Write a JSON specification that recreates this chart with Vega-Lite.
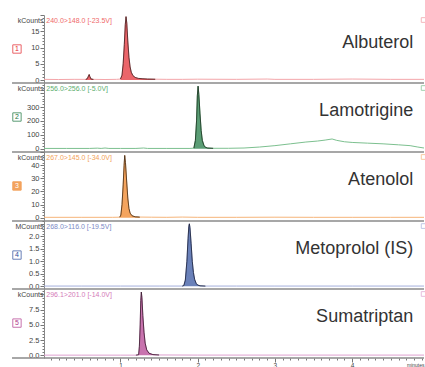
{
"$schema":"https://vega.github.io/schema/vega-lite/v6.json",
"padding":{"left":10,"top":11,"right":0,"bottom":0},
"background":"white",
"spacing":0,
"bounds":"flush",
"config":{
 "view":{"stroke":null},
 "font":"Liberation Sans",
 "axis":{"grid":false,"domain":true,"ticks":true,"tickCount":200,"labelOverlap":false,"labelFontSize":7.5,"labelColor":"#444","tickColor":"#777","tickSize":3,"domainColor":"#888","titleFontSize":7,"titleFontWeight":"normal","titleColor":"#444","labelFont":"Liberation Sans","titleFont":"Liberation Sans"},
 "axisY":{"titleAngle":0,"titleAlign":"right","titleBaseline":"middle","titleX":-1,"titleY":5,"labelPadding":1}
},
"datasets":{
 "meta":[
  {"c":"A","name":"Albuterol","ion":"240.0>148.0 [-23.5V]","n":"1"},
  {"c":"L","name":"Lamotrigine","ion":"256.0>256.0 [-5.0V]","n":"2"},
  {"c":"At","name":"Atenolol","ion":"267.0>145.0 [-34.0V]","n":"3"},
  {"c":"M","name":"Metoprolol (IS)","ion":"268.0>116.0 [-19.5V]","n":"4"},
  {"c":"S","name":"Sumatriptan","ion":"296.1>201.0 [-14.0V]","n":"5"}
 ],
 "tr":[
  {"c":"A","t":0.01,"v":0.2},{"c":"A","t":0.2,"v":0.15},{"c":"A","t":0.4,"v":0.2},{"c":"A","t":0.55,"v":0.2},{"c":"A","t":0.57,"v":0.4},{"c":"A","t":0.585,"v":1.2},{"c":"A","t":0.595,"v":1.7},{"c":"A","t":0.605,"v":1.0},{"c":"A","t":0.62,"v":0.3},{"c":"A","t":0.65,"v":0.2},{"c":"A","t":0.8,"v":0.15},{"c":"A","t":0.95,"v":0.2},{"c":"A","t":1.0,"v":0.3},{"c":"A","t":1.02,"v":1.5},{"c":"A","t":1.035,"v":5},{"c":"A","t":1.05,"v":11},{"c":"A","t":1.062,"v":17},{"c":"A","t":1.072,"v":19.5},{"c":"A","t":1.082,"v":17.5},{"c":"A","t":1.095,"v":12},{"c":"A","t":1.11,"v":7},{"c":"A","t":1.125,"v":4},{"c":"A","t":1.14,"v":2.4},{"c":"A","t":1.16,"v":1.4},{"c":"A","t":1.19,"v":0.8},{"c":"A","t":1.23,"v":0.5},{"c":"A","t":1.28,"v":0.4},{"c":"A","t":1.35,"v":0.3},{"c":"A","t":1.45,"v":0.25},{"c":"A","t":1.6,"v":0.2},{"c":"A","t":1.8,"v":0.2},{"c":"A","t":2.0,"v":0.25},{"c":"A","t":2.5,"v":0.2},{"c":"A","t":2.9,"v":0.3},{"c":"A","t":3.0,"v":0.2},{"c":"A","t":3.5,"v":0.2},{"c":"A","t":4.0,"v":0.3},{"c":"A","t":4.5,"v":0.2},{"c":"A","t":4.93,"v":0.2},
  {"c":"L","t":0.01,"v":2},{"c":"L","t":0.3,"v":2},{"c":"L","t":0.6,"v":2},{"c":"L","t":0.7,"v":4},{"c":"L","t":0.75,"v":2},{"c":"L","t":0.8,"v":5},{"c":"L","t":0.85,"v":2},{"c":"L","t":1.0,"v":2},{"c":"L","t":1.2,"v":2},{"c":"L","t":1.3,"v":5},{"c":"L","t":1.35,"v":2},{"c":"L","t":1.6,"v":2},{"c":"L","t":1.9,"v":2},{"c":"L","t":1.95,"v":4},{"c":"L","t":1.97,"v":60},{"c":"L","t":1.985,"v":200},{"c":"L","t":1.995,"v":380},{"c":"L","t":2.005,"v":450},{"c":"L","t":2.015,"v":390},{"c":"L","t":2.03,"v":250},{"c":"L","t":2.045,"v":130},{"c":"L","t":2.06,"v":60},{"c":"L","t":2.08,"v":25},{"c":"L","t":2.1,"v":10},{"c":"L","t":2.13,"v":5},{"c":"L","t":2.2,"v":3},{"c":"L","t":2.4,"v":3},{"c":"L","t":2.6,"v":5},{"c":"L","t":2.8,"v":12},{"c":"L","t":3.0,"v":22},{"c":"L","t":3.2,"v":35},{"c":"L","t":3.4,"v":48},{"c":"L","t":3.55,"v":55},{"c":"L","t":3.65,"v":62},{"c":"L","t":3.74,"v":70},{"c":"L","t":3.8,"v":60},{"c":"L","t":3.9,"v":50},{"c":"L","t":4.0,"v":45},{"c":"L","t":4.2,"v":40},{"c":"L","t":4.4,"v":35},{"c":"L","t":4.6,"v":28},{"c":"L","t":4.75,"v":22},{"c":"L","t":4.85,"v":12},{"c":"L","t":4.93,"v":5},
  {"c":"At","t":0.01,"v":0.3},{"c":"At","t":0.5,"v":0.3},{"c":"At","t":0.9,"v":0.3},{"c":"At","t":0.99,"v":0.4},{"c":"At","t":1.005,"v":2},{"c":"At","t":1.02,"v":10},{"c":"At","t":1.035,"v":25},{"c":"At","t":1.047,"v":40},{"c":"At","t":1.055,"v":47.5},{"c":"At","t":1.065,"v":42},{"c":"At","t":1.08,"v":28},{"c":"At","t":1.095,"v":15},{"c":"At","t":1.11,"v":7},{"c":"At","t":1.125,"v":3.5},{"c":"At","t":1.15,"v":1.5},{"c":"At","t":1.19,"v":0.7},{"c":"At","t":1.25,"v":0.5},{"c":"At","t":1.4,"v":0.4},{"c":"At","t":1.6,"v":0.3},{"c":"At","t":1.8,"v":0.5},{"c":"At","t":2.0,"v":0.3},{"c":"At","t":2.5,"v":0.3},{"c":"At","t":3.0,"v":0.4},{"c":"At","t":3.5,"v":0.3},{"c":"At","t":4.0,"v":0.3},{"c":"At","t":4.5,"v":0.3},{"c":"At","t":4.93,"v":0.3},
  {"c":"M","t":0.01,"v":0.01},{"c":"M","t":0.5,"v":0.01},{"c":"M","t":1.0,"v":0.01},{"c":"M","t":1.5,"v":0.01},{"c":"M","t":1.8,"v":0.01},{"c":"M","t":1.82,"v":0.03},{"c":"M","t":1.84,"v":0.25},{"c":"M","t":1.86,"v":1.0},{"c":"M","t":1.875,"v":1.9},{"c":"M","t":1.885,"v":2.4},{"c":"M","t":1.892,"v":2.5},{"c":"M","t":1.9,"v":2.35},{"c":"M","t":1.915,"v":1.7},{"c":"M","t":1.93,"v":1.0},{"c":"M","t":1.945,"v":0.55},{"c":"M","t":1.96,"v":0.28},{"c":"M","t":1.98,"v":0.12},{"c":"M","t":2.0,"v":0.05},{"c":"M","t":2.03,"v":0.02},{"c":"M","t":2.1,"v":0.01},{"c":"M","t":2.5,"v":0.01},{"c":"M","t":3.0,"v":0.01},{"c":"M","t":4.0,"v":0.01},{"c":"M","t":4.93,"v":0.01},
  {"c":"S","t":0.01,"v":0.03},{"c":"S","t":0.5,"v":0.03},{"c":"S","t":1.0,"v":0.03},{"c":"S","t":1.2,"v":0.03},{"c":"S","t":1.235,"v":0.1},{"c":"S","t":1.245,"v":1.5},{"c":"S","t":1.255,"v":5},{"c":"S","t":1.263,"v":9},{"c":"S","t":1.27,"v":10.4},{"c":"S","t":1.278,"v":9.5},{"c":"S","t":1.29,"v":6.5},{"c":"S","t":1.305,"v":3.8},{"c":"S","t":1.32,"v":2.0},{"c":"S","t":1.34,"v":0.9},{"c":"S","t":1.37,"v":0.35},{"c":"S","t":1.42,"v":0.12},{"c":"S","t":1.5,"v":0.06},{"c":"S","t":2.0,"v":0.04},{"c":"S","t":3.0,"v":0.04},{"c":"S","t":4.0,"v":0.04},{"c":"S","t":4.93,"v":0.04}
 ]
},
"vconcat":[
 {"width":380,"height":68,
  "layer":[
   {"data":{"name":"tr"},"transform":[{"filter":"datum.c==='A'"}],"mark":{"type":"line","color":"#f4a6aa","strokeWidth":1},
    "encoding":{"x":{"field":"t","type":"quantitative","scale":{"domain":[0.01,4.93],"nice":false,"zero":false},"axis":null},
     "y":{"field":"v","type":"quantitative","scale":{"domain":[-0.92,20],"nice":false,"zero":false},
      "axis":{"title":"kCounts","tickCount":200,"values":[0,1,2,3,4,5,6,7,8,9,10,11,12,13,14,15,16,17,18,19,20],"labelExpr":"(datum.value == 0 || datum.value == 5 || datum.value == 10 || datum.value == 15) ? format(datum.value, 'd') : ''","tickSize":{"condition":{"test":"datum.value % 5 == 0","value":4},"value":2}}}}},
   {"data":{"name":"tr"},"transform":[{"filter":"datum.c==='A' && datum.t>=0.55 && datum.t<=0.65"}],"mark":{"type":"area","color":"#e3242b","line":{"color":"#3a2020","strokeWidth":0.8}},
    "encoding":{"x":{"field":"t","type":"quantitative"},"y":{"field":"v","type":"quantitative"}}},
   {"data":{"name":"tr"},"transform":[{"filter":"datum.c==='A' && datum.t>=0.99 && datum.t<=1.45"}],"mark":{"type":"area","color":"#e3242b","line":{"color":"#3a2020","strokeWidth":0.8}},
    "encoding":{"x":{"field":"t","type":"quantitative"},"y":{"field":"v","type":"quantitative"}}},
   {"data":{"name":"meta"},"transform":[{"filter":"datum.c==='A'"}],"mark":{"type":"rule","color":"#8a8a8a","strokeWidth":1.5},
    "encoding":{"x":{"datum":-0.404},"x2":{"datum":4.93},"y":{"datum":-0.92}}},
   {"data":{"name":"meta"},"transform":[{"filter":"datum.c==='A'"}],"mark":{"type":"text","align":"left","baseline":"middle","dy":5.5,"fontSize":7,"color":"#ef6a6a"},
    "encoding":{"x":{"datum":0.04},"y":{"datum":20},"text":{"field":"ion"}}},
   {"data":{"name":"meta"},"transform":[{"filter":"datum.c==='A'"}],"mark":{"type":"text","align":"right","baseline":"alphabetic","dy":33,"fontSize":18,"color":"#333333"},
    "encoding":{"x":{"datum":4.79},"y":{"datum":20},"text":{"field":"name"}}},
   {"data":{"name":"meta"},"transform":[{"filter":"datum.c==='A'"}],"mark":{"type":"point","shape":"square","size":70,"filled":true,"fill":"white","stroke":"#e3242b","strokeWidth":1},
    "encoding":{"x":{"datum":-0.34},"y":{"datum":9.54}}},
   {"data":{"name":"meta"},"transform":[{"filter":"datum.c==='A'"}],"mark":{"type":"text","align":"center","baseline":"middle","fontSize":7,"color":"#e3242b"},
    "encoding":{"x":{"datum":-0.34},"y":{"datum":9.54},"text":{"field":"n"}}},
   {"data":{"name":"meta"},"transform":[{"filter":"datum.c==='A'"}],"mark":{"type":"point","shape":"square","size":22,"filled":false,"stroke":"#f09aa0","strokeWidth":1},
    "encoding":{"x":{"datum":4.925},"y":{"datum":18.46}}}
  ]},
 {"width":380,"height":69,
  "layer":[
   {"data":{"name":"tr"},"transform":[{"filter":"datum.c==='L'"}],"mark":{"type":"line","color":"#7cc08f","strokeWidth":1},
    "encoding":{"x":{"field":"t","type":"quantitative","scale":{"domain":[0.01,4.93],"nice":false,"zero":false},"axis":null},
     "y":{"field":"v","type":"quantitative","scale":{"domain":[-23.7,472.7],"nice":false,"zero":false},
      "axis":{"title":"kCounts","tickCount":200,"values":[0,20,40,60,80,100,120,140,160,180,200,220,240,260,280,300,320,340,360,380,400,420,440,460],"labelExpr":"(datum.value == 0 || datum.value == 100 || datum.value == 200 || datum.value == 300) ? format(datum.value, 'd') : ''","tickSize":{"condition":{"test":"datum.value % 100 == 0","value":4},"value":2}}}}},
   {"data":{"name":"tr"},"transform":[{"filter":"datum.c==='L' && datum.t>=1.95 && datum.t<=2.2"}],"mark":{"type":"area","color":"#16733a","line":{"color":"#1f2f22","strokeWidth":0.8}},
    "encoding":{"x":{"field":"t","type":"quantitative"},"y":{"field":"v","type":"quantitative"}}},
   {"data":{"name":"meta"},"transform":[{"filter":"datum.c==='L'"}],"mark":{"type":"rule","color":"#8a8a8a","strokeWidth":1.5},
    "encoding":{"x":{"datum":-0.404},"x2":{"datum":4.93},"y":{"datum":-23.7}}},
   {"data":{"name":"meta"},"transform":[{"filter":"datum.c==='L'"}],"mark":{"type":"text","align":"left","baseline":"middle","dy":5.5,"fontSize":7,"color":"#5cae6e"},
    "encoding":{"x":{"datum":0.04},"y":{"datum":472.7},"text":{"field":"ion"}}},
   {"data":{"name":"meta"},"transform":[{"filter":"datum.c==='L'"}],"mark":{"type":"text","align":"right","baseline":"alphabetic","dy":33,"fontSize":18,"color":"#333333"},
    "encoding":{"x":{"datum":4.79},"y":{"datum":472.7},"text":{"field":"name"}}},
   {"data":{"name":"meta"},"transform":[{"filter":"datum.c==='L'"}],"mark":{"type":"point","shape":"square","size":70,"filled":true,"fill":"white","stroke":"#16733a","strokeWidth":1},
    "encoding":{"x":{"datum":-0.34},"y":{"datum":228}}},
   {"data":{"name":"meta"},"transform":[{"filter":"datum.c==='L'"}],"mark":{"type":"text","align":"center","baseline":"middle","fontSize":7,"color":"#16733a"},
    "encoding":{"x":{"datum":-0.34},"y":{"datum":228},"text":{"field":"n"}}},
   {"data":{"name":"meta"},"transform":[{"filter":"datum.c==='L'"}],"mark":{"type":"point","shape":"square","size":22,"filled":false,"stroke":"#7cc08f","strokeWidth":1},
    "encoding":{"x":{"datum":4.925},"y":{"datum":436.7}}}
  ]},
 {"width":380,"height":69,
  "layer":[
   {"data":{"name":"tr"},"transform":[{"filter":"datum.c==='At'"}],"mark":{"type":"line","color":"#f6b57a","strokeWidth":1},
    "encoding":{"x":{"field":"t","type":"quantitative","scale":{"domain":[0.01,4.93],"nice":false,"zero":false},"axis":null},
     "y":{"field":"v","type":"quantitative","scale":{"domain":[-2.5,50.1],"nice":false,"zero":false},
      "axis":{"title":"kCounts","tickCount":200,"values":[0,2,4,6,8,10,12,14,16,18,20,22,24,26,28,30,32,34,36,38,40,42,44,46,48,50],"labelExpr":"(datum.value == 0 || datum.value == 10 || datum.value == 20 || datum.value == 30 || datum.value == 40) ? format(datum.value, 'd') : ''","tickSize":{"condition":{"test":"datum.value % 10 == 0","value":4},"value":2}}}}},
   {"data":{"name":"tr"},"transform":[{"filter":"datum.c==='At' && datum.t>=0.99 && datum.t<=1.3"}],"mark":{"type":"area","color":"#ef7d1a","line":{"color":"#3a2a1a","strokeWidth":0.8}},
    "encoding":{"x":{"field":"t","type":"quantitative"},"y":{"field":"v","type":"quantitative"}}},
   {"data":{"name":"meta"},"transform":[{"filter":"datum.c==='At'"}],"mark":{"type":"rule","color":"#8a8a8a","strokeWidth":1.5},
    "encoding":{"x":{"datum":-0.404},"x2":{"datum":4.93},"y":{"datum":-2.5}}},
   {"data":{"name":"meta"},"transform":[{"filter":"datum.c==='At'"}],"mark":{"type":"text","align":"left","baseline":"middle","dy":5.5,"fontSize":7,"color":"#f3a35a"},
    "encoding":{"x":{"datum":0.04},"y":{"datum":50.1},"text":{"field":"ion"}}},
   {"data":{"name":"meta"},"transform":[{"filter":"datum.c==='At'"}],"mark":{"type":"text","align":"right","baseline":"alphabetic","dy":33,"fontSize":18,"color":"#333333"},
    "encoding":{"x":{"datum":4.79},"y":{"datum":50.1},"text":{"field":"name"}}},
   {"data":{"name":"meta"},"transform":[{"filter":"datum.c==='At'"}],"mark":{"type":"point","shape":"square","size":70,"filled":true,"fill":"#ef7d1a","stroke":"#ef7d1a","strokeWidth":1},
    "encoding":{"x":{"datum":-0.34},"y":{"datum":24.2}}},
   {"data":{"name":"meta"},"transform":[{"filter":"datum.c==='At'"}],"mark":{"type":"text","align":"center","baseline":"middle","fontSize":7,"color":"white"},
    "encoding":{"x":{"datum":-0.34},"y":{"datum":24.2},"text":{"field":"n"}}},
   {"data":{"name":"meta"},"transform":[{"filter":"datum.c==='At'"}],"mark":{"type":"point","shape":"square","size":22,"filled":false,"stroke":"#f6b57a","strokeWidth":1},
    "encoding":{"x":{"datum":4.925},"y":{"datum":46.3}}}
  ]},
 {"width":380,"height":68,
  "layer":[
   {"data":{"name":"tr"},"transform":[{"filter":"datum.c==='M'"}],"mark":{"type":"line","color":"#a5b0dc","strokeWidth":1},
    "encoding":{"x":{"field":"t","type":"quantitative","scale":{"domain":[0.01,4.93],"nice":false,"zero":false},"axis":null},
     "y":{"field":"v","type":"quantitative","scale":{"domain":[-0.108,2.612],"nice":false,"zero":false},
      "axis":{"title":"MCounts","tickCount":200,"values":[0,0.1,0.2,0.3,0.4,0.5,0.6,0.7,0.8,0.9,1,1.1,1.2,1.3,1.4,1.5,1.6,1.7,1.8,1.9,2,2.1,2.2,2.3,2.4,2.5,2.6],"labelExpr":"(datum.value == 0 || datum.value == 0.5 || datum.value == 1 || datum.value == 1.5 || datum.value == 2) ? format(datum.value, '.1f') : ''","tickSize":{"condition":{"test":"datum.value % 0.5 == 0","value":4},"value":2}}}}},
   {"data":{"name":"tr"},"transform":[{"filter":"datum.c==='M' && datum.t>=1.8 && datum.t<=2.1"}],"mark":{"type":"area","color":"#2b4b9b","line":{"color":"#1a1f33","strokeWidth":0.8}},
    "encoding":{"x":{"field":"t","type":"quantitative"},"y":{"field":"v","type":"quantitative"}}},
   {"data":{"name":"meta"},"transform":[{"filter":"datum.c==='M'"}],"mark":{"type":"rule","color":"#8a8a8a","strokeWidth":1.5},
    "encoding":{"x":{"datum":-0.404},"x2":{"datum":4.93},"y":{"datum":-0.108}}},
   {"data":{"name":"meta"},"transform":[{"filter":"datum.c==='M'"}],"mark":{"type":"text","align":"left","baseline":"middle","dy":5.5,"fontSize":7,"color":"#7b8ac6"},
    "encoding":{"x":{"datum":0.04},"y":{"datum":2.612},"text":{"field":"ion"}}},
   {"data":{"name":"meta"},"transform":[{"filter":"datum.c==='M'"}],"mark":{"type":"text","align":"right","baseline":"alphabetic","dy":33,"fontSize":18,"color":"#333333"},
    "encoding":{"x":{"datum":4.79},"y":{"datum":2.612},"text":{"field":"name"}}},
   {"data":{"name":"meta"},"transform":[{"filter":"datum.c==='M'"}],"mark":{"type":"point","shape":"square","size":70,"filled":true,"fill":"white","stroke":"#2b4b9b","strokeWidth":1},
    "encoding":{"x":{"datum":-0.34},"y":{"datum":1.25}}},
   {"data":{"name":"meta"},"transform":[{"filter":"datum.c==='M'"}],"mark":{"type":"text","align":"center","baseline":"middle","fontSize":7,"color":"#2b4b9b"},
    "encoding":{"x":{"datum":-0.34},"y":{"datum":1.25},"text":{"field":"n"}}},
   {"data":{"name":"meta"},"transform":[{"filter":"datum.c==='M'"}],"mark":{"type":"point","shape":"square","size":22,"filled":false,"stroke":"#a5b0dc","strokeWidth":1},
    "encoding":{"x":{"datum":4.925},"y":{"datum":2.41}}}
  ]},
 {"width":380,"height":69,
  "layer":[
   {"data":{"name":"tr"},"transform":[{"filter":"datum.c==='S'"}],"mark":{"type":"line","color":"#dea0cf","strokeWidth":1},
    "encoding":{"x":{"field":"t","type":"quantitative","scale":{"domain":[0.01,4.93],"nice":false,"zero":false},
      "axis":{"title":"minutes","tickCount":200,"values":[0.1,0.2,0.3,0.4,0.5,0.6,0.7,0.8,0.9,1,1.1,1.2,1.3,1.4,1.5,1.6,1.7,1.8,1.9,2,2.1,2.2,2.3,2.4,2.5,2.6,2.7,2.8,2.9,3,3.1,3.2,3.3,3.4,3.5,3.6,3.7,3.8,3.9,4,4.1,4.2,4.3,4.4,4.5,4.6,4.7,4.8,4.9],"labelExpr":"(datum.value == 1 || datum.value == 2 || datum.value == 3 || datum.value == 4) ? format(datum.value, 'd') : ''","tickSize":{"condition":{"test":"datum.value % 1 == 0","value":4},"value":2},"domain":false,"labelPadding":0,"labelFontSize":6.5,"titleAnchor":"end","titleAlign":"right","titleBaseline":"bottom","titleX":380,"titleY":9,"titleFontSize":5}},
     "y":{"field":"v","type":"quantitative","scale":{"domain":[-0.44,10.9],"nice":false,"zero":false},
      "axis":{"title":"kCounts","tickCount":200,"values":[0,0.5,1,1.5,2,2.5,3,3.5,4,4.5,5,5.5,6,6.5,7,7.5,8,8.5,9,9.5,10,10.5],"labelExpr":"(datum.value == 0 || datum.value == 2.5 || datum.value == 5 || datum.value == 7.5) ? format(datum.value, '.1f') : ''","tickSize":{"condition":{"test":"datum.value % 2.5 == 0","value":4},"value":2}}}}},
   {"data":{"name":"tr"},"transform":[{"filter":"datum.c==='S' && datum.t>=1.2 && datum.t<=1.5"}],"mark":{"type":"area","color":"#b0378c","line":{"color":"#331a2a","strokeWidth":0.8}},
    "encoding":{"x":{"field":"t","type":"quantitative"},"y":{"field":"v","type":"quantitative"}}},
   {"data":{"name":"meta"},"transform":[{"filter":"datum.c==='S'"}],"mark":{"type":"rule","color":"#8a8a8a","strokeWidth":1.5},
    "encoding":{"x":{"datum":-0.404},"x2":{"datum":4.93},"y":{"datum":-0.44}}},
   {"data":{"name":"meta"},"transform":[{"filter":"datum.c==='S'"}],"mark":{"type":"text","align":"left","baseline":"middle","dy":5.5,"fontSize":7,"color":"#d47ab8"},
    "encoding":{"x":{"datum":0.04},"y":{"datum":10.9},"text":{"field":"ion"}}},
   {"data":{"name":"meta"},"transform":[{"filter":"datum.c==='S'"}],"mark":{"type":"text","align":"right","baseline":"alphabetic","dy":33,"fontSize":18,"color":"#333333"},
    "encoding":{"x":{"datum":4.79},"y":{"datum":10.9},"text":{"field":"name"}}},
   {"data":{"name":"meta"},"transform":[{"filter":"datum.c==='S'"}],"mark":{"type":"point","shape":"square","size":70,"filled":true,"fill":"white","stroke":"#b0378c","strokeWidth":1},
    "encoding":{"x":{"datum":-0.34},"y":{"datum":5.3}}},
   {"data":{"name":"meta"},"transform":[{"filter":"datum.c==='S'"}],"mark":{"type":"text","align":"center","baseline":"middle","fontSize":7,"color":"#b0378c"},
    "encoding":{"x":{"datum":-0.34},"y":{"datum":5.3},"text":{"field":"n"}}},
   {"data":{"name":"meta"},"transform":[{"filter":"datum.c==='S'"}],"mark":{"type":"point","shape":"square","size":22,"filled":false,"stroke":"#dea0cf","strokeWidth":1},
    "encoding":{"x":{"datum":4.925},"y":{"datum":10.08}}}
  ]}
]
}
